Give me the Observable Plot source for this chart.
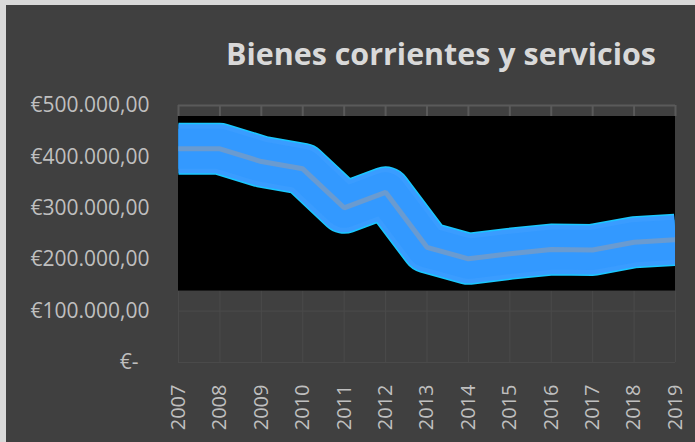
<!DOCTYPE html>
<html>
<head>
<meta charset="utf-8">
<script src="https://cdn.jsdelivr.net/npm/d3@7"></script>
<script src="https://cdn.jsdelivr.net/npm/@observablehq/plot@0.6"></script>
<style>
  html, body { margin: 0; padding: 0; background: #d9d9d9; }
  body { width: 695px; height: 442px; overflow: hidden; position: relative; }
  #chart { position: absolute; left: 6px; top: 5px; width: 689px; height: 437px; background: #404040; }
  #title { position: absolute; left: 220px; top: 34px; font-family: "Open Sans", sans-serif; font-weight: 700;
           font-size: 30px; line-height: 30px; color: #d9d9d9; white-space: nowrap; transform-origin: 0 0; }
  #plot { position: absolute; left: 0; top: 0; }
</style>
</head>
<body>
<div id="chart">
  <div id="plot"></div>
  <div id="title">Bienes corrientes y servicios</div>
</div>
<script>
// Data
const years = [2007, 2008, 2009, 2010, 2011, 2012, 2013, 2014, 2015, 2016, 2017, 2018, 2019];
const values = [415700, 415700, 391000, 376800, 301000, 331000, 224000, 201700, 211500, 219800, 219000, 234000, 238700];
const yTicks = [0, 100000, 200000, 300000, 400000, 500000];
// Black plot-area panel (in data units)
const panelX = [2007, 2019];
const panelY = [139000, 478600];

const data = years.map((year, i) => ({year, value: values[i]}));
const fmt = d => d === 0 ? "€-\u00a0\u00a0" : "€" + d3.format(",.2f")(d).replace(/,/g, "X").replace(".", ",").replace(/X/g, ".");

const gridTop = yTicks[yTicks.length - 1];
const band = (stroke, strokeWidth, join = "round") =>
  Plot.line(data, { x: "year", y: "value", stroke, strokeWidth, strokeLinejoin: join, strokeLinecap: "butt", clip: "frame" });

const plot = Plot.plot({
  width: 689,
  height: 437,
  marginLeft: 172,
  marginRight: 20,
  marginTop: 100,
  marginBottom: 80,
  style: { background: "transparent", fontFamily: "'Open Sans', sans-serif" },
  x: { type: "linear", domain: [years[0], years[years.length - 1]], label: null },
  y: { domain: [0, gridTop], label: null },
  marks: [
    // lower faint gridlines
    Plot.ruleX(years, { x: d => d, y1: 0, y2: panelY[0], stroke: "#4a4a4a", strokeWidth: 1 }),
    Plot.ruleY(yTicks.slice(0, -1), { stroke: "#4a4a4a", strokeWidth: 1 }),
    // upper visible gridlines
    Plot.ruleX(years, { x: d => d, y1: panelY[1], y2: gridTop, stroke: "#5a5a5a", strokeWidth: 2 }),
    Plot.ruleY([gridTop], { stroke: "#5a5a5a", strokeWidth: 2 }),
    // black panel
    Plot.rect([0], { x1: panelX[0], x2: panelX[1], y1: panelY[0], y2: panelY[1], fill: "black" }),
    // glowing band
    band("#19c8ff", 52),
    band("#3a9cff", 49),
    band("#3399ff", 40),
    band("#6a9bd0", 5, "miter"),
    Plot.axisY({ ticks: yTicks, tickFormat: fmt, tickSize: 0, tickPadding: 29, fontSize: 21, color: "#bfbfbf", label: null }),
    Plot.axisX({ ticks: years, tickFormat: d => String(d), tickRotate: -90, tickSize: 0, tickPadding: 22, fontSize: 20, color: "#bfbfbf", label: null })
  ]
});
document.getElementById("plot").appendChild(plot);

// fit title width to reference
const t = document.getElementById("title");
const w = t.getBoundingClientRect().width;
t.style.transform = `scaleX(${430 / w})`;
</script>
</body>
</html>
